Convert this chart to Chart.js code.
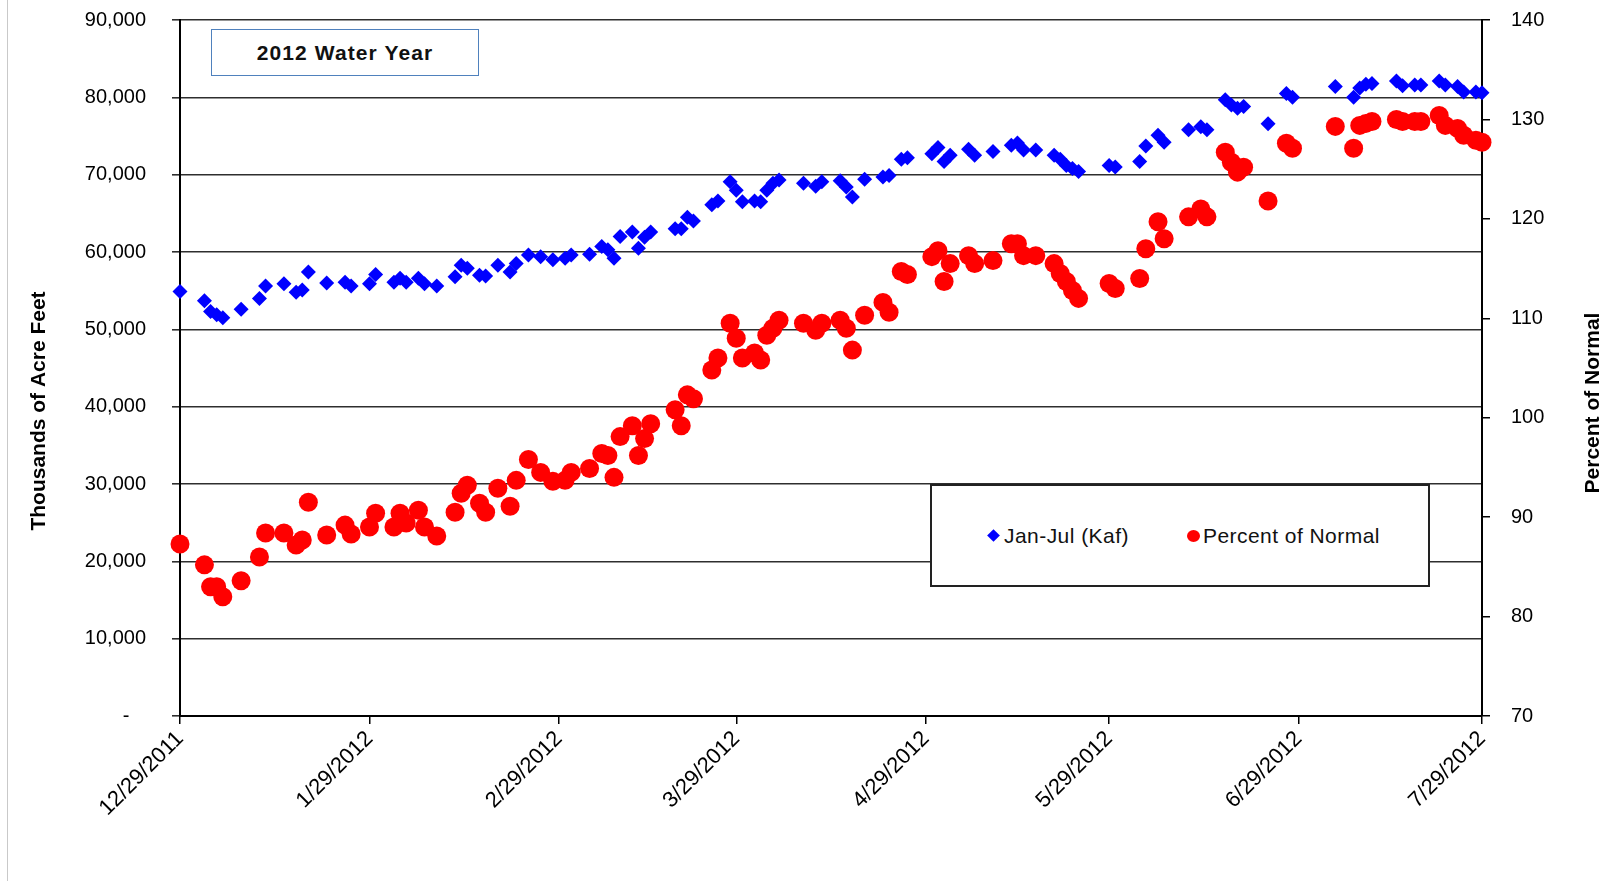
<!DOCTYPE html>
<html>
<head>
<meta charset="utf-8">
<title>2012 Water Year</title>
<script src="https://cdn.jsdelivr.net/npm/chart.js@4.4.1/dist/chart.umd.min.js"></script>
<style>
    html, body { margin: 0; padding: 0; background: #fff; }
    #wrap { position: relative; width: 1612px; height: 881px; overflow: hidden; font-family: "Liberation Sans", Arial, sans-serif; }
    #edge { position: absolute; left: 7px; top: 0; width: 1px; height: 881px; background: #c9c9c9; }
    #titleBox {
        position: absolute; left: 211px; top: 29px; width: 266px; height: 45px;
        border: 1.5px solid #4f81bd; background: #fff;
        display: flex; align-items: center; justify-content: center;
        font: bold 21px "Liberation Sans", Arial, sans-serif; letter-spacing: 1.1px; color: #111;
    }
    #legendBox {
        position: absolute; left: 930px; top: 484px; width: 496px; height: 99px;
        border: 2px solid #222; background: #fff;
    }
    .lg-item { position: absolute; top: 50%; transform: translateY(-50%); display: flex; align-items: center; font-size: 21px; letter-spacing: 0.45px; color: #111; white-space: nowrap; }
    .mk-diamond { width: 9px; height: 9px; transform: rotate(45deg); margin-right: 6px; }
    .mk-circle { width: 13px; height: 12px; border-radius: 50%; margin-right: 3px; }
</style>
</head>
<body>
<div id="wrap">
    <canvas id="waterChart" width="1612" height="881"></canvas>
    <div id="edge"></div>
    <div id="titleBox">2012 Water Year</div>
    <div id="legendBox"></div>
</div>
<script>
// ===== Data (days counted from 12/29/2011) =====
const days = [
    0, 4, 5, 6, 7, 10, 13, 14, 17, 19, 20, 21, 24, 27, 28, 31, 32, 35, 36, 37,
    39, 40, 42, 45, 46, 47, 49, 50, 52, 54, 55, 57, 59, 61, 63, 64, 67, 69, 70, 71,
    72, 74, 75, 76, 77, 81, 82, 83, 84, 87, 88, 90, 91, 92, 94, 95, 96, 97, 98, 102,
    104, 105, 108, 109, 110, 112, 115, 116, 118, 119, 123, 124, 125, 126, 129, 130, 133, 136, 137, 138,
    140, 143, 144, 145, 146, 147, 152, 153, 157, 158, 160, 161, 165, 167, 168, 171, 172, 173, 174, 178,
    181, 182, 189, 192, 193, 194, 195, 199, 200, 202, 203, 206, 207, 209, 210, 212, 213, 214
];

// Jan-Jul runoff forecast, thousands of acre feet
const janJulKaf = [
    54900, 53700, 52300, 51900, 51500, 52600, 54000, 55600, 55900, 54800, 55100, 57400, 56000, 56100, 55600, 55900, 57100, 56100, 56600, 56100,
    56600, 55900, 55600, 56800, 58300, 57900, 57000, 56900, 58300, 57400, 58500, 59600, 59400, 59000, 59200, 59600, 59700, 60700, 60300, 59200,
    62000, 62600, 60500, 61900, 62600, 63000, 63000, 64500, 64000, 66100, 66600, 69100, 68000, 66500, 66600, 66500, 68000, 68900, 69300, 68900,
    68500, 69100, 69200, 68400, 67100, 69400, 69700, 69900, 72000, 72200, 72700, 73500, 71700, 72500, 73300, 72500, 73000, 73800, 74100, 73200,
    73200, 72500, 72000, 71200, 70800, 70400, 71200, 71000, 71700, 73700, 75100, 74200, 75800, 76200, 75800, 79700, 79000, 78600, 78800, 76600,
    80500, 80000, 81400, 80000, 81200, 81700, 81800, 82100, 81500, 81600, 81600, 82100, 81600, 81400, 80700, 80700, 80600, 80600
];

// Percent of normal
const pctNormal = [
    87.3, 85.2, 83.0, 83.0, 82.0, 83.6, 86.0, 88.4, 88.4, 87.2, 87.7, 91.5, 88.2, 89.2, 88.3, 89.0, 90.4, 89.0, 90.4, 89.4,
    90.7, 89.0, 88.1, 90.5, 92.4, 93.2, 91.4, 90.5, 92.9, 91.1, 93.7, 95.8, 94.5, 93.6, 93.7, 94.5, 94.9, 96.4, 96.2, 94.0,
    98.1, 99.2, 96.2, 97.9, 99.4, 100.8, 99.2, 102.3, 101.9, 104.8, 106.0, 109.5, 108.0, 106.0, 106.5, 105.8, 108.3, 109.0, 109.8, 109.5,
    108.8, 109.5, 109.8, 109.0, 106.8, 110.3, 111.6, 110.6, 114.7, 114.4, 116.2, 116.8, 113.7, 115.5, 116.3, 115.5, 115.8, 117.5, 117.5, 116.3,
    116.3, 115.5, 114.5, 113.7, 112.8, 112.0, 113.5, 113.0, 114.0, 117.0, 119.7, 118.0, 120.2, 121.0, 120.2, 126.7, 125.7, 124.7, 125.2, 121.8,
    127.6, 127.1, 129.3, 127.1, 129.4, 129.6, 129.8, 130.0, 129.8, 129.8, 129.8, 130.4, 129.4, 129.1, 128.4, 127.9, 127.7, 127.6
];

// x-axis ticks (one per month) and their labels
const monthDays = [0, 31, 62, 91, 122, 152, 183, 213];
const monthLabels = ['12/29/2011', '1/29/2012', '2/29/2012', '3/29/2012', '4/29/2012', '5/29/2012', '6/29/2012', '7/29/2012'];

const FONT = '"Liberation Sans", Arial, sans-serif';
const GRID = '#2e2e2e';

// fixed plot box: the scales get set sizes and no extra label padding
function fixSize(w) {
    return s => {
        s.width = w;
        s.paddingTop = 0;
        s.paddingBottom = 0;
    };
}

// axis titles in Excel's rotated style (both read bottom to top)
const axisTitles = {
    id: 'axisTitles',
    afterDraw(chart) {
        const ctx = chart.ctx;
        ctx.save();
        ctx.font = 'bold 21px ' + FONT;
        ctx.fillStyle = '#000';
        ctx.textAlign = 'center';
        ctx.textBaseline = 'middle';
        [[39, 411, 'Thousands of Acre Feet'], [1593, 403, 'Percent of Normal']].forEach(([x, y, t]) => {
            ctx.save();
            ctx.translate(x, y);
            ctx.rotate(-Math.PI / 2);
            ctx.fillText(t, 0, 0);
            ctx.restore();
        });
        ctx.restore();
    }
};

const chart = new Chart(document.getElementById('waterChart'), {
    type: 'scatter',
    data: {
        datasets: [
            {
                label: 'Jan-Jul (Kaf)',
                data: days.map((d, i) => ({ x: d, y: janJulKaf[i] })),
                pointStyle: 'rectRot',
                pointRadius: 7.5,
                pointBackgroundColor: '#0000ff',
                pointBorderWidth: 0,
                clip: false,
                yAxisID: 'y'
            },
            {
                label: 'Percent of Normal',
                data: days.map((d, i) => ({ x: d, y: pctNormal[i] })),
                pointStyle: 'circle',
                pointRadius: 9.5,
                pointBackgroundColor: '#ff0000',
                pointBorderWidth: 0,
                clip: false,
                yAxisID: 'y1'
            }
        ]
    },
    options: {
        responsive: false,
        devicePixelRatio: 1,
        animation: false,
        layout: { padding: { top: 20, left: 0, right: 0, bottom: 0 } },
        plugins: {
            legend: { display: false },
            tooltip: { enabled: false }
        },
        scales: {
            x: {
                type: 'linear',
                min: 0,
                max: 213,
                afterBuildTicks: s => { s.ticks = monthDays.map(v => ({ value: v })); },
                afterFit: s => { s.height = 165; s.paddingLeft = 0; s.paddingRight = 0; },
                ticks: {
                    autoSkip: false,
                    minRotation: 45,
                    maxRotation: 45,
                    padding: 2,
                    color: '#000',
                    font: { family: FONT, size: 22 },
                    callback: v => monthLabels[monthDays.indexOf(v)]
                },
                grid: { drawOnChartArea: false, drawTicks: true, tickLength: 8, color: '#000', lineWidth: 1.5 },
                border: { color: '#000', width: 2 }
            },
            y: {
                position: 'left',
                min: 0,
                max: 90000,
                afterFit: fixSize(180),
                ticks: {
                    stepSize: 10000,
                    padding: 26,
                    color: '#000',
                    font: { family: FONT, size: 20 },
                    callback: v => v === 0 ? '-   ' : v.toLocaleString('en-US')
                },
                grid: { color: GRID, lineWidth: 1.6, tickLength: 8 },
                border: { color: '#000', width: 2 }
            },
            y1: {
                position: 'right',
                min: 70,
                max: 140,
                afterFit: fixSize(130),
                ticks: {
                    stepSize: 10,
                    padding: 21,
                    color: '#000',
                    font: { family: FONT, size: 20 }
                },
                grid: { drawOnChartArea: false, tickLength: 8, color: '#000', lineWidth: 1.5 },
                border: { color: '#000', width: 2 }
            }
        }
    },
    plugins: [axisTitles]
});

// HTML legend inside the boxed area, built from the datasets
function renderLegend() {
    const box = document.getElementById('legendBox');
    const lefts = [57, 255];
    box.innerHTML = chart.data.datasets.map((ds, i) => {
        const cls = ds.pointStyle === 'rectRot' ? 'mk-diamond' : 'mk-circle';
        return `<div class="lg-item" style="left:${lefts[i]}px"><span class="${cls}" style="background:${ds.pointBackgroundColor}"></span>${ds.label}</div>`;
    }).join('');
}
renderLegend();
</script>
</body>
</html>
